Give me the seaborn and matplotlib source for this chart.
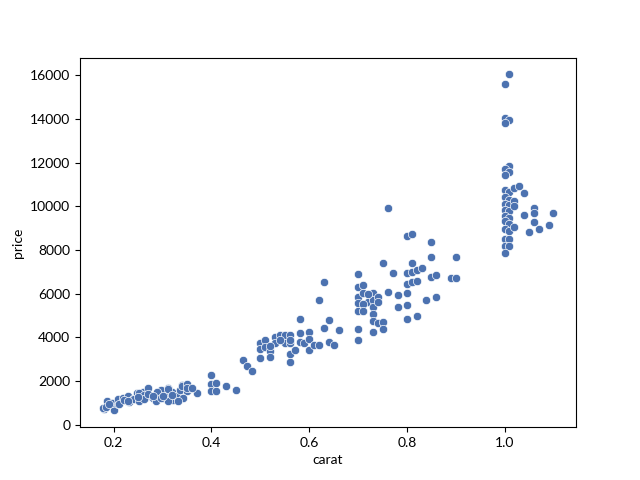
import matplotlib
matplotlib.use("Agg")
import matplotlib.pyplot as plt
import seaborn as sns
import pandas as pd

# low band 0.18 - 0.37 carat
carat_small = [0.18, 0.187, 0.187, 0.20, 0.197, 0.209, 0.209, 0.219, 0.228, 0.229,
               0.24, 0.248, 0.25, 0.26, 0.26, 0.271, 0.27, 0.28, 0.29, 0.296,
               0.30, 0.31, 0.31, 0.319, 0.321, 0.33, 0.335, 0.34, 0.35, 0.35,
               0.359, 0.371, 0.342, 0.331, 0.31, 0.287, 0.177, 0.185, 0.19, 0.21,
               0.221, 0.231, 0.241, 0.251, 0.251, 0.261, 0.261, 0.289, 0.297, 0.31,
               0.34, 0.35, 0.35, 0.36, 0.25, 0.27, 0.30, 0.32, 0.23, 0.28]
price_small = [718, 836, 1065, 654, 992, 946, 1175, 1220, 1065, 1294,
               1175, 1450, 1143, 1477, 1175, 1678, 1325, 1220, 1450, 1600,
               1220, 1678, 1370, 1477, 1143, 1294, 1600, 1828, 1828, 1522,
               1678, 1450, 1220, 1065, 1065, 1065, 760, 790, 960, 960,
               1140, 1020, 1170, 1450, 1100, 1370, 1180, 1480, 1220, 1630,
               1780, 1860, 1700, 1680, 1250, 1400, 1330, 1380, 1100, 1300]

# 0.40 - 0.66 carat
carat_mid = [0.40, 0.40, 0.41, 0.40, 0.41, 0.43, 0.45, 0.464, 0.473, 0.482,
             0.50, 0.50, 0.50, 0.51, 0.51, 0.52, 0.52, 0.53, 0.53, 0.541,
             0.55, 0.55, 0.561, 0.561, 0.561, 0.561, 0.571, 0.582, 0.582, 0.582,
             0.59, 0.60, 0.60, 0.60, 0.609, 0.62, 0.631, 0.641, 0.641, 0.651,
             0.661, 0.62, 0.63, 0.52, 0.54, 0.56]
price_mid = [2285, 1880, 1930, 1560, 1560, 1780, 1590, 2971, 2697, 2436,
             3762, 3460, 3049, 3885, 3580, 3396, 3122, 4036, 3734, 4114,
             4114, 3734, 4114, 3734, 3245, 2893, 3428, 4831, 4220, 3808,
             3762, 4265, 3917, 3428, 3657, 3657, 4420, 4800, 3808, 3657,
             4342, 5714, 6540, 3600, 3900, 3900]

# 0.70 - 0.90 carat
carat_large = [0.70, 0.70, 0.71, 0.70, 0.71, 0.72, 0.70, 0.71, 0.70, 0.71,
               0.73, 0.73, 0.741, 0.73, 0.73, 0.73, 0.741, 0.751, 0.751, 0.73,
               0.70, 0.70, 0.751, 0.771, 0.761, 0.782, 0.782, 0.80, 0.80, 0.80,
               0.82, 0.761, 0.80, 0.81, 0.85, 0.85, 0.90, 0.81, 0.80, 0.81,
               0.82, 0.83, 0.80, 0.81, 0.82, 0.85, 0.86, 0.891, 0.90, 0.84,
               0.86, 0.72, 0.74]
price_large = [6902, 6322, 6400, 5865, 6048, 5636, 5563, 5530, 5225, 5225,
               6048, 5714, 5837, 5380, 5074, 4767, 4676, 4722, 4374, 4265,
               4374, 3885, 7390, 6934, 6093, 5942, 5380, 6048, 5485, 4831,
               4982, 9905, 8639, 8717, 8351, 7693, 7693, 7390, 6934, 6980,
               7085, 7163, 6445, 6523, 6582, 6780, 6857, 6706, 6706, 5715,
               5840, 6000, 5600]

# around 1 carat
carat_one = [1.01, 1.00, 1.00, 1.01, 1.00, 1.01, 1.00, 1.01, 1.00,
             1.00, 1.01, 1.00, 1.01, 1.00, 1.01, 1.00, 1.01, 1.00, 1.01,
             1.00, 1.01, 1.00, 1.01, 1.00, 1.01, 1.00, 1.01, 1.00,
             1.02, 1.03, 1.04, 1.02, 1.02, 1.02, 1.04, 1.06, 1.06, 1.06,
             1.05, 1.07, 1.09, 1.10]
price_one = [16045, 15590, 14065, 13940, 13820, 11840, 11690, 11580, 11430,
             10740, 10660, 10430, 10310, 10130, 10060, 9840, 9770, 9550, 9470,
             9320, 9180, 8950, 8880, 8510, 8510, 8200, 8200, 7860,
             10820, 10925, 10590, 10260, 10000, 9070, 9600, 9930, 9705, 9295,
             8810, 8945, 9140, 9675]

df = pd.DataFrame({
    "carat": carat_small + carat_mid + carat_large + carat_one,
    "price": price_small + price_mid + price_large + price_one,
})

plt.rcParams["font.family"] = ["Lato", "DejaVu Sans"]

fig, ax = plt.subplots(figsize=(6.4, 4.8), dpi=100)
sns.scatterplot(data=df, x="carat", y="price", color="#4c72b0", ax=ax)

fig.savefig("out.png", dpi=100)
